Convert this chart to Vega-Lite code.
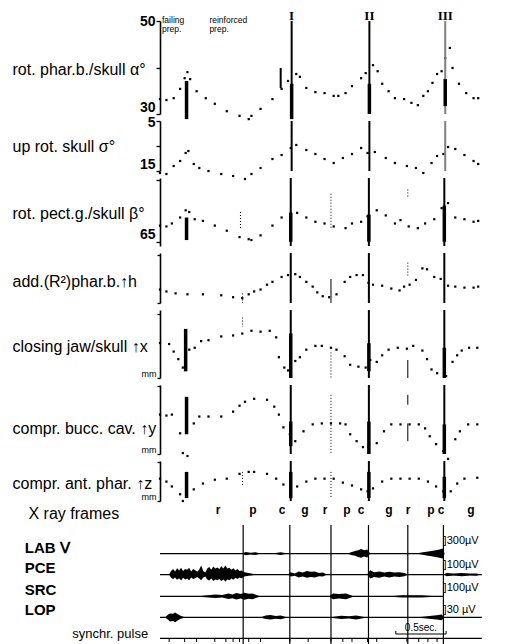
{
"$schema": "https://vega.github.io/schema/vega-lite/v6.json",
"padding": {"left": 12, "top": 9, "right": 0, "bottom": 0},
"bounds": "flush",
"spacing": 7,
"config": {
 "view": {"stroke": null},
 "font": "Liberation Sans",
 "axis": {"domainColor": "black", "domainWidth": 1.6, "tickColor": "black", "tickWidth": 1.3, "tickSize": 4, "labelColor": "black", "labelFont": "Liberation Sans", "labelFontSize": 14, "labelFontWeight": "bold", "labelPadding": 1, "labelFlush": false, "labelOverlap": false, "grid": false, "titleColor": "black", "titleFont": "Liberation Sans", "titleFontSize": 16, "titleFontWeight": "normal", "titleAngle": 0, "titleAlign": "left", "titleBaseline": "middle", "titleX": -148},
 "point": {"filled": true, "shape": "square", "size": 5, "color": "black", "opacity": 1},
 "text": {"color": "black"},
 "rule": {"color": "black"}
},
"vconcat": [
{
 "width": 352, "height": 93,
 "layer": [
  {"data": {"values": [{"t":0,"v":33.2},{"t":0.064,"v":33.0},{"t":0.136,"v":33.4},{"t":0.2,"v":35.4},{"t":0.245,"v":37.7},{"t":0.273,"v":39.0},{"t":0.3,"v":37.5},{"t":0.364,"v":34.9},{"t":0.455,"v":33.4},{"t":0.545,"v":32.2},{"t":0.664,"v":30.6},{"t":0.791,"v":29.6},{"t":0.882,"v":28.9},{"t":0.909,"v":29.6},{"t":1.0,"v":31.1},{"t":1.118,"v":33.2},{"t":1.209,"v":35.4},{"t":1.273,"v":37.1},{"t":1.355,"v":38.6},{"t":1.391,"v":38.0},{"t":1.455,"v":35.6},{"t":1.545,"v":34.7},{"t":1.636,"v":34.5},{"t":1.727,"v":33.9},{"t":1.773,"v":33.9},{"t":1.845,"v":34.5},{"t":1.909,"v":36.0},{"t":2.0,"v":37.7},{"t":2.045,"v":38.8},{"t":2.118,"v":40.5},{"t":2.164,"v":39.2},{"t":2.209,"v":36.5},{"t":2.273,"v":34.9},{"t":2.336,"v":33.4},{"t":2.427,"v":33.2},{"t":2.5,"v":32.4},{"t":2.564,"v":31.9},{"t":2.618,"v":33.9},{"t":2.664,"v":34.9},{"t":2.709,"v":36.7},{"t":2.755,"v":38.6},{"t":2.8,"v":39.2},{"t":2.836,"v":42.0},{"t":2.882,"v":44.2},{"t":2.909,"v":39.9},{"t":2.973,"v":36.5},{"t":3.045,"v":34.5},{"t":3.118,"v":33.4},{"t":3.164,"v":33.4}]},
   "mark": "point",
   "encoding": {
    "x": {"field": "t", "type": "quantitative", "scale": {"domain": [0, 3.2]}, "axis": null},
    "y": {"field": "v", "type": "quantitative", "scale": {"domain": [30, 50], "zero": false},
     "axis": {"title": "rot. phar.b./skull α°", "titleY": 48, "values": [30, 35, 40, 45, 50], "labelExpr": "datum.value==30||datum.value==50 ? datum.label : ''", "labelBaseline": {"condition": {"test": "datum.value==30", "value": "bottom"}, "value": "middle"}}}
   }},
  {"data": {"values": [{"t":1.309},{"t":2.082}]}, "mark": {"type": "rule", "strokeWidth": 2}, "encoding": {"x": {"field": "t", "type": "quantitative"}}},
  {"data": {"values": [{"t":2.836}]}, "mark": {"type": "rule", "strokeWidth": 2, "color": "#808080"}, "encoding": {"x": {"field": "t", "type": "quantitative"}}},
  {"data": {"values": [{"t":0.264,"a":37.1,"b":28.9},{"t":1.309,"a":36.5,"b":28.9},{"t":2.082,"a":36.5,"b":30},{"t":2.836,"a":37.5,"b":31.7}]}, "mark": {"type": "rule", "strokeWidth": 3.5}, "encoding": {"x": {"field": "t", "type": "quantitative"}, "y": {"field": "a", "type": "quantitative"}, "y2": {"field": "b"}}},
  {"data": {"values": [{"t":1.2,"a":39.9,"b":35.6}]}, "mark": {"type": "rule", "strokeWidth": 2}, "encoding": {"x": {"field": "t", "type": "quantitative"}, "y": {"field": "a", "type": "quantitative"}, "y2": {"field": "b"}}},
  {"data": {"values": [{"t":1.309,"v":51.08,"s":"I"},{"t":2.082,"v":51.08,"s":"II"},{"t":2.836,"v":51.08,"s":"III"}]}, "mark": {"type": "text", "font": "Liberation Serif", "fontWeight": "bold", "fontSize": 13, "baseline": "middle"}, "encoding": {"x": {"field": "t", "type": "quantitative"}, "y": {"field": "v", "type": "quantitative"}, "text": {"field": "s"}}},
  {"data": {"values": [{"t":0.02,"v":51.0,"s":"failing\nprep."},{"t":0.491,"v":51.0,"s":"reinforced\nprep."}]}, "mark": {"type": "text", "fontSize": 8.5, "align": "left", "baseline": "top", "lineBreak": "\n", "lineHeight": 8.5}, "encoding": {"x": {"field": "t", "type": "quantitative"}, "y": {"field": "v", "type": "quantitative"}, "text": {"field": "s"}}}
 ]
},
{
 "width": 352, "height": 50,
 "layer": [
  {"data": {"values": [{"t":0,"v":15.4},{"t":0.064,"v":15.6},{"t":0.136,"v":14.0},{"t":0.2,"v":13.0},{"t":0.255,"v":11.4},{"t":0.282,"v":11.0},{"t":0.336,"v":13.6},{"t":0.391,"v":14.4},{"t":0.482,"v":15.0},{"t":0.609,"v":15.6},{"t":0.727,"v":16.0},{"t":0.845,"v":16.6},{"t":0.909,"v":15.6},{"t":1.0,"v":14.4},{"t":1.118,"v":12.6},{"t":1.209,"v":11.8},{"t":1.3,"v":10.4},{"t":1.355,"v":9.8},{"t":1.455,"v":10.8},{"t":1.545,"v":11.6},{"t":1.636,"v":12.6},{"t":1.727,"v":13.4},{"t":1.818,"v":12.4},{"t":1.909,"v":11.6},{"t":2.0,"v":10.4},{"t":2.064,"v":11.4},{"t":2.136,"v":11.2},{"t":2.245,"v":12.4},{"t":2.336,"v":13.4},{"t":2.455,"v":14.0},{"t":2.545,"v":14.4},{"t":2.618,"v":15.4},{"t":2.7,"v":13.4},{"t":2.755,"v":12.0},{"t":2.818,"v":11.6},{"t":2.864,"v":10.2},{"t":2.936,"v":10.6},{"t":3.027,"v":11.8},{"t":3.118,"v":13.0},{"t":3.164,"v":13.6}]},
   "mark": "point",
   "encoding": {
    "x": {"field": "t", "type": "quantitative", "scale": {"domain": [0, 3.2]}, "axis": null},
    "y": {"field": "v", "type": "quantitative", "scale": {"domain": [5, 15], "reverse": true, "zero": false},
     "axis": {"title": "up rot. skull σ°", "titleY": 25, "values": [5, 10, 15], "labelExpr": "datum.value==5||datum.value==15 ? datum.label : ''", "labelBaseline": {"condition": {"test": "datum.value==15", "value": "bottom"}, "value": "middle"}, "labelOffset": {"condition": {"test": "datum.value==5", "value": 1}, "value": 0}}}
   }},
  {"data": {"values": [{"t":1.309},{"t":2.082}]}, "mark": {"type": "rule", "strokeWidth": 2}, "encoding": {"x": {"field": "t", "type": "quantitative"}}},
  {"data": {"values": [{"t":2.836}]}, "mark": {"type": "rule", "strokeWidth": 2, "color": "#808080"}, "encoding": {"x": {"field": "t", "type": "quantitative"}}}
 ]
},
{
 "width": 352, "height": 68,
 "layer": [
  {"data": {"values": [{"t":0,"v":68.8},{"t":0.064,"v":68.6},{"t":0.118,"v":69.3},{"t":0.2,"v":70.7},{"t":0.255,"v":72.4},{"t":0.291,"v":72.0},{"t":0.345,"v":70.3},{"t":0.427,"v":69.9},{"t":0.545,"v":68.8},{"t":0.664,"v":67.6},{"t":0.791,"v":66.1},{"t":0.882,"v":65.6},{"t":0.909,"v":65.4},{"t":1.0,"v":66.5},{"t":1.118,"v":68.8},{"t":1.209,"v":70.7},{"t":1.3,"v":71.8},{"t":1.364,"v":71.8},{"t":1.455,"v":70.7},{"t":1.545,"v":69.7},{"t":1.636,"v":69.3},{"t":1.727,"v":68.6},{"t":1.845,"v":68.2},{"t":1.909,"v":69.3},{"t":2.0,"v":69.7},{"t":2.064,"v":71.0},{"t":2.155,"v":72.4},{"t":2.245,"v":71.2},{"t":2.336,"v":69.3},{"t":2.391,"v":70.1},{"t":2.473,"v":68.6},{"t":2.564,"v":68.2},{"t":2.636,"v":69.3},{"t":2.727,"v":70.3},{"t":2.8,"v":72.9},{"t":2.864,"v":74.1},{"t":2.936,"v":70.7},{"t":3.027,"v":70.3},{"t":3.118,"v":69.7},{"t":3.164,"v":69.9}]},
   "mark": "point",
   "encoding": {
    "x": {"field": "t", "type": "quantitative", "scale": {"domain": [0, 3.2]}, "axis": null},
    "y": {"field": "v", "type": "quantitative", "scale": {"domain": [65, 79.47], "zero": false},
     "axis": {"title": "rot. pect.g./skull β°", "titleY": 35, "values": [65, 70, 75, 79.47], "labelExpr": "datum.value==65||datum.value==75 ? datum.label : ''", "labelBaseline": {"condition": {"test": "datum.value==65", "value": "bottom"}, "value": "middle"}}}
   }},
  {"data": {"values": [{"t":1.3},{"t":2.077},{"t":2.827}]}, "mark": {"type": "rule", "strokeWidth": 2}, "encoding": {"x": {"field": "t", "type": "quantitative"}}},
  {"data": {"values": [{"t":0.264,"a":70.7,"b":65.4},{"t":1.3,"a":71.8,"b":65},{"t":2.077,"a":71.4,"b":65},{"t":2.827,"a":73.5,"b":65}]}, "mark": {"type": "rule", "strokeWidth": 3.5}, "encoding": {"x": {"field": "t", "type": "quantitative"}, "y": {"field": "a", "type": "quantitative"}, "y2": {"field": "b"}}},
  {"data": {"values": [{"t":1.7,"a":76.3,"b":68.2},{"t":2.464,"a":77.3,"b":75.2},{"t":0.8,"a":72.0,"b":68.2}]}, "mark": {"type": "rule", "strokeWidth": 1, "strokeDash": [1, 2]}, "encoding": {"x": {"field": "t", "type": "quantitative"}, "y": {"field": "a", "type": "quantitative"}, "y2": {"field": "b"}}}
 ]
},
{
 "width": 352, "height": 50,
 "layer": [
  {"data": {"values": [{"t":0,"v":1.75},{"t":0.064,"v":1.5},{"t":0.155,"v":1.25},{"t":0.273,"v":1.13},{"t":0.427,"v":1.13},{"t":0.609,"v":1.0},{"t":0.727,"v":0.75},{"t":0.818,"v":0.63},{"t":0.882,"v":1.13},{"t":0.936,"v":1.5},{"t":1.0,"v":1.75},{"t":1.064,"v":2.38},{"t":1.118,"v":2.75},{"t":1.209,"v":3.38},{"t":1.273,"v":3.63},{"t":1.345,"v":3.75},{"t":1.391,"v":3.38},{"t":1.455,"v":2.75},{"t":1.518,"v":2.13},{"t":1.564,"v":1.38},{"t":1.618,"v":0.88},{"t":1.682,"v":0.75},{"t":1.755,"v":1.13},{"t":1.836,"v":2.75},{"t":1.891,"v":3.38},{"t":1.955,"v":3.63},{"t":2.018,"v":3.63},{"t":2.073,"v":2.63},{"t":2.118,"v":2.38},{"t":2.209,"v":2.25},{"t":2.3,"v":1.88},{"t":2.382,"v":1.63},{"t":2.427,"v":2.13},{"t":2.482,"v":2.38},{"t":2.545,"v":3.0},{"t":2.609,"v":4.5},{"t":2.655,"v":4.38},{"t":2.727,"v":3.38},{"t":2.791,"v":3.13},{"t":2.864,"v":2.25},{"t":2.936,"v":2.13},{"t":3.027,"v":2.0},{"t":3.118,"v":2.0},{"t":3.164,"v":2.13}]},
   "mark": "point",
   "encoding": {
    "x": {"field": "t", "type": "quantitative", "scale": {"domain": [0, 3.2]}, "axis": null},
    "y": {"field": "v", "type": "quantitative", "scale": {"domain": [0, 6.25]},
     "axis": {"title": "add.(R²)phar.b.↑h", "titleY": 28, "values": [0, 2, 4, 6.25], "labels": false, "tickSize": 3}}
   }},
  {"data": {"values": [{"t":1.3},{"t":2.077},{"t":2.827}]}, "mark": {"type": "rule", "strokeWidth": 2}, "encoding": {"x": {"field": "t", "type": "quantitative"}}},
  {"data": {"values": [{"t":1.7,"a":3.13,"b":0}]}, "mark": {"type": "rule", "strokeWidth": 1}, "encoding": {"x": {"field": "t", "type": "quantitative"}, "y": {"field": "a", "type": "quantitative"}, "y2": {"field": "b"}}},
  {"data": {"values": [{"t":2.464,"a":5.25,"b":3.38},{"t":0.82,"a":1.25,"b":0}]}, "mark": {"type": "rule", "strokeWidth": 1, "strokeDash": [1, 2]}, "encoding": {"x": {"field": "t", "type": "quantitative"}, "y": {"field": "a", "type": "quantitative"}, "y2": {"field": "b"}}}
 ]
},
{
 "width": 352, "height": 68,
 "layer": [
  {"data": {"values": [{"t":0,"v":4.63},{"t":0.091,"v":4.5},{"t":0.136,"v":3.5},{"t":0.182,"v":2.5},{"t":0.227,"v":1.38},{"t":0.291,"v":3.75},{"t":0.345,"v":4.0},{"t":0.409,"v":4.88},{"t":0.482,"v":5.0},{"t":0.609,"v":5.5},{"t":0.727,"v":5.63},{"t":0.818,"v":5.88},{"t":0.909,"v":6.25},{"t":1.0,"v":6.13},{"t":1.091,"v":6.25},{"t":1.155,"v":5.38},{"t":1.182,"v":2.75},{"t":1.236,"v":1.38},{"t":1.273,"v":1.0},{"t":1.345,"v":2.25},{"t":1.391,"v":2.75},{"t":1.455,"v":3.75},{"t":1.545,"v":4.25},{"t":1.609,"v":4.25},{"t":1.7,"v":4.0},{"t":1.755,"v":3.75},{"t":1.836,"v":2.88},{"t":1.891,"v":1.75},{"t":1.973,"v":1.5},{"t":2.045,"v":1.38},{"t":2.091,"v":2.38},{"t":2.155,"v":2.13},{"t":2.209,"v":3.0},{"t":2.273,"v":3.75},{"t":2.364,"v":4.0},{"t":2.455,"v":3.88},{"t":2.518,"v":4.25},{"t":2.609,"v":3.63},{"t":2.655,"v":2.5},{"t":2.7,"v":1.13},{"t":2.755,"v":0.63},{"t":2.845,"v":0.25},{"t":2.909,"v":2.13},{"t":2.955,"v":3.0},{"t":3.0,"v":3.63},{"t":3.073,"v":4.0},{"t":3.155,"v":4.0}]},
   "mark": "point",
   "encoding": {
    "x": {"field": "t", "type": "quantitative", "scale": {"domain": [0, 3.2]}, "axis": null},
    "y": {"field": "v", "type": "quantitative", "scale": {"domain": [0, 8.5]},
     "axis": {"title": "closing jaw/skull ↑x", "titleY": 36, "values": [0, 1, 2, 3, 4, 5, 6, 7, 8.5], "tickSize": 3, "labelExpr": "datum.value==0 ? 'mm' : ''", "labelFontSize": 9, "labelFontWeight": "normal", "labelBaseline": "bottom"}}
   }},
  {"data": {"values": [{"t":1.3},{"t":2.077},{"t":2.827}]}, "mark": {"type": "rule", "strokeWidth": 2}, "encoding": {"x": {"field": "t", "type": "quantitative"}}},
  {"data": {"values": [{"t":0.255,"a":6.5,"b":0.88},{"t":1.3,"a":5.9,"b":0},{"t":2.077,"a":4.6,"b":0.9},{"t":2.827,"a":4.0,"b":0}]}, "mark": {"type": "rule", "strokeWidth": 3.5}, "encoding": {"x": {"field": "t", "type": "quantitative"}, "y": {"field": "a", "type": "quantitative"}, "y2": {"field": "b"}}},
  {"data": {"values": [{"t":1.7,"a":3.38,"b":0},{"t":0.82,"a":8.0,"b":6.75}]}, "mark": {"type": "rule", "strokeWidth": 1, "strokeDash": [1, 2]}, "encoding": {"x": {"field": "t", "type": "quantitative"}, "y": {"field": "a", "type": "quantitative"}, "y2": {"field": "b"}}},
  {"data": {"values": [{"t":2.464,"a":2.38,"b":0}]}, "mark": {"type": "rule", "strokeWidth": 1}, "encoding": {"x": {"field": "t", "type": "quantitative"}, "y": {"field": "a", "type": "quantitative"}, "y2": {"field": "b"}}}
 ]
},
{
 "width": 352, "height": 69,
 "layer": [
  {"data": {"values": [{"t":0,"v":5.71},{"t":0.064,"v":5.57},{"t":0.118,"v":5.71},{"t":0.2,"v":3.0},{"t":0.227,"v":0.14},{"t":0.273,"v":-0.29},{"t":0.336,"v":4.43},{"t":0.391,"v":5.43},{"t":0.482,"v":5.43},{"t":0.609,"v":5.43},{"t":0.727,"v":6.14},{"t":0.791,"v":7.0},{"t":0.845,"v":7.57},{"t":0.936,"v":8.0},{"t":1.064,"v":7.86},{"t":1.136,"v":6.86},{"t":1.182,"v":5.71},{"t":1.227,"v":3.86},{"t":1.291,"v":2.86},{"t":1.345,"v":1.86},{"t":1.427,"v":3.29},{"t":1.518,"v":4.29},{"t":1.609,"v":4.43},{"t":1.7,"v":4.43},{"t":1.791,"v":4.43},{"t":1.845,"v":4.29},{"t":1.891,"v":2.86},{"t":1.955,"v":1.86},{"t":2.018,"v":1.0},{"t":2.073,"v":1.14},{"t":2.155,"v":1.57},{"t":2.227,"v":3.29},{"t":2.3,"v":4.29},{"t":2.391,"v":4.29},{"t":2.482,"v":4.29},{"t":2.573,"v":4.29},{"t":2.636,"v":3.71},{"t":2.682,"v":2.57},{"t":2.745,"v":1.43},{"t":2.818,"v":0.43},{"t":2.864,"v":-0.71},{"t":2.936,"v":2.14},{"t":2.982,"v":3.29},{"t":3.064,"v":4.29},{"t":3.155,"v":4.29}]},
   "mark": "point",
   "encoding": {
    "x": {"field": "t", "type": "quantitative", "scale": {"domain": [0, 3.2]}, "axis": null},
    "y": {"field": "v", "type": "quantitative", "scale": {"domain": [0, 9.86]},
     "axis": {"title": "compr. bucc. cav. ↑y", "titleY": 43, "values": [0, 1, 2, 3, 4, 5, 6, 7, 8, 9.86], "tickSize": 3, "labelExpr": "datum.value==0 ? 'mm' : ''", "labelFontSize": 9, "labelFontWeight": "normal", "labelBaseline": "bottom"}}
   }},
  {"data": {"values": [{"t":1.3},{"t":2.077},{"t":2.827}]}, "mark": {"type": "rule", "strokeWidth": 2}, "encoding": {"x": {"field": "t", "type": "quantitative"}}},
  {"data": {"values": [{"t":0.264,"a":8.29,"b":2.86},{"t":1.3,"a":4.71,"b":1.14},{"t":2.077,"a":4.71,"b":0},{"t":2.827,"a":4.29,"b":0}]}, "mark": {"type": "rule", "strokeWidth": 3.5}, "encoding": {"x": {"field": "t", "type": "quantitative"}, "y": {"field": "a", "type": "quantitative"}, "y2": {"field": "b"}}},
  {"data": {"values": [{"t":1.7,"a":8.57,"b":0}]}, "mark": {"type": "rule", "strokeWidth": 1, "strokeDash": [1, 2]}, "encoding": {"x": {"field": "t", "type": "quantitative"}, "y": {"field": "a", "type": "quantitative"}, "y2": {"field": "b"}}},
  {"data": {"values": [{"t":2.464,"a":8.57,"b":7.14},{"t":2.464,"a":4.43,"b":1.86}]}, "mark": {"type": "rule", "strokeWidth": 1}, "encoding": {"x": {"field": "t", "type": "quantitative"}, "y": {"field": "a", "type": "quantitative"}, "y2": {"field": "b"}}}
 ]
},
{
 "width": 352, "height": 40,
 "layer": [
  {"data": {"values": [{"t":0,"v":3.07},{"t":0.064,"v":2.67},{"t":0.118,"v":2.0},{"t":0.2,"v":0.93},{"t":0.227,"v":0},{"t":0.336,"v":1.6},{"t":0.427,"v":2.4},{"t":0.545,"v":2.93},{"t":0.664,"v":3.07},{"t":0.791,"v":3.73},{"t":0.882,"v":4.0},{"t":0.936,"v":4.0},{"t":1.064,"v":3.73},{"t":1.155,"v":3.07},{"t":1.227,"v":2.27},{"t":1.3,"v":1.6},{"t":1.364,"v":2.0},{"t":1.455,"v":2.67},{"t":1.545,"v":3.07},{"t":1.636,"v":3.07},{"t":1.727,"v":3.07},{"t":1.818,"v":2.53},{"t":1.909,"v":2.13},{"t":2.0,"v":1.6},{"t":2.064,"v":1.33},{"t":2.118,"v":1.73},{"t":2.209,"v":2.67},{"t":2.3,"v":3.07},{"t":2.391,"v":3.07},{"t":2.482,"v":3.07},{"t":2.573,"v":3.07},{"t":2.664,"v":2.67},{"t":2.745,"v":2.0},{"t":2.818,"v":1.33},{"t":2.891,"v":1.33},{"t":2.955,"v":2.4},{"t":3.027,"v":3.07},{"t":3.155,"v":3.2}]},
   "mark": "point",
   "encoding": {
    "x": {"field": "t", "type": "quantitative", "scale": {"domain": [0, 3.2]}, "axis": null},
    "y": {"field": "v", "type": "quantitative", "scale": {"domain": [0, 5.33]},
     "axis": {"title": "compr. ant. phar. ↑z", "titleY": 22, "values": [0, 1, 2, 3, 4, 5.33], "tickSize": 3, "labelExpr": "datum.value==0 ? 'mm' : ''", "labelFontSize": 9, "labelFontWeight": "normal", "labelBaseline": "bottom"}}
   }},
  {"data": {"values": [{"t":1.3},{"t":2.077},{"t":2.827}]}, "mark": {"type": "rule", "strokeWidth": 2}, "encoding": {"x": {"field": "t", "type": "quantitative"}}},
  {"data": {"values": [{"t":0.264,"a":4.0,"b":0.4},{"t":1.3,"a":4.0,"b":0.4},{"t":2.077,"a":4.0,"b":0.4},{"t":2.827,"a":3.33,"b":0.4}]}, "mark": {"type": "rule", "strokeWidth": 3.5}, "encoding": {"x": {"field": "t", "type": "quantitative"}, "y": {"field": "a", "type": "quantitative"}, "y2": {"field": "b"}}},
  {"data": {"values": [{"t":1.7,"a":4.0,"b":0.4},{"t":0.82,"a":4.0,"b":2.0}]}, "mark": {"type": "rule", "strokeWidth": 1, "strokeDash": [1, 2]}, "encoding": {"x": {"field": "t", "type": "quantitative"}, "y": {"field": "a", "type": "quantitative"}, "y2": {"field": "b"}}}
 ]
},
{
 "width": 352, "height": 10,
 "layer": [
  {"data": {"values": [{"t":0.527,"f":"r"},{"t":0.845,"f":"p"},{"t":1.109,"f":"c"},{"t":1.318,"f":"g"},{"t":1.5,"f":"r"},{"t":1.7,"f":"p"},{"t":1.827,"f":"c"},{"t":2.082,"f":"g"},{"t":2.255,"f":"r"},{"t":2.464,"f":"p"},{"t":2.555,"f":"c"},{"t":2.827,"f":"g"}]},
   "mark": {"type": "text", "fontSize": 12, "fontWeight": "bold", "baseline": "middle"},
   "encoding": {
    "x": {"field": "t", "type": "quantitative", "scale": {"domain": [0, 3.2]}, "axis": null},
    "y": {"datum": 0.6, "type": "quantitative", "scale": {"domain": [-1, 1]}, "axis": {"title": "X ray frames", "titleY": 5, "titleX": -132, "domain": false, "ticks": false, "labels": false}},
    "text": {"field": "f"}
   }}
 ]
},
{
 "width": 352, "height": 120,
 "layer": [
  {"data": {"values": [{"t0":0,"t1":2.82,"v":4.57},{"t0":0,"t1":3.2,"v":3.52},{"t0":0,"t1":2.82,"v":2.43},{"t0":0,"t1":3.2,"v":1.38},{"t0":0,"t1":3.2,"v":0.33}]},
   "mark": {"type": "rule", "strokeWidth": 1.3},
   "encoding": {
    "x": {"field": "t0", "type": "quantitative", "scale": {"domain": [0, 3.2]}, "axis": null},
    "x2": {"field": "t1"},
    "y": {"field": "v", "type": "quantitative", "scale": {"domain": [0, 5.714]}, "axis": null}
   }},
  {"data": {"values": [
    {"b":"L1","t":0.818,"lo":4.57,"hi":4.57},{"b":"L1","t":0.85,"lo":4.49,"hi":4.65},{"b":"L1","t":0.9,"lo":4.53,"hi":4.61},{"b":"L1","t":0.95,"lo":4.5,"hi":4.64},{"b":"L1","t":1.0,"lo":4.57,"hi":4.57},
    {"b":"L2","t":1.118,"lo":4.57,"hi":4.57},{"b":"L2","t":1.2,"lo":4.5,"hi":4.64},{"b":"L2","t":1.273,"lo":4.57,"hi":4.57},
    {"b":"L3","t":1.864,"lo":4.57,"hi":4.57},{"b":"L3","t":1.9,"lo":4.5,"hi":4.64},{"b":"L3","t":1.94,"lo":4.46,"hi":4.7},{"b":"L3","t":1.97,"lo":4.4,"hi":4.74},{"b":"L3","t":2.0,"lo":4.36,"hi":4.8},{"b":"L3","t":2.03,"lo":4.42,"hi":4.74},{"b":"L3","t":2.06,"lo":4.38,"hi":4.78},{"b":"L3","t":2.09,"lo":4.57,"hi":4.57},
    {"b":"L4","t":2.545,"lo":4.57,"hi":4.57},{"b":"L4","t":2.6,"lo":4.52,"hi":4.62},{"b":"L4","t":2.65,"lo":4.48,"hi":4.66},{"b":"L4","t":2.7,"lo":4.44,"hi":4.7},{"b":"L4","t":2.74,"lo":4.4,"hi":4.74},{"b":"L4","t":2.78,"lo":4.36,"hi":4.78},{"b":"L4","t":2.81,"lo":4.32,"hi":4.82},{"b":"L4","t":2.83,"lo":4.57,"hi":4.57},
    {"b":"P1","t":0.09,"lo":3.52,"hi":3.52},{"b":"P1","t":0.11,"lo":3.36,"hi":3.7},{"b":"P1","t":0.13,"lo":3.3,"hi":3.8},{"b":"P1","t":0.15,"lo":3.38,"hi":3.68},{"b":"P1","t":0.17,"lo":3.26,"hi":3.84},{"b":"P1","t":0.19,"lo":3.34,"hi":3.72},{"b":"P1","t":0.21,"lo":3.22,"hi":3.86},{"b":"P1","t":0.23,"lo":3.36,"hi":3.7},{"b":"P1","t":0.25,"lo":3.28,"hi":3.8},{"b":"P1","t":0.27,"lo":3.32,"hi":3.76},{"b":"P1","t":0.29,"lo":3.24,"hi":3.86},{"b":"P1","t":0.31,"lo":3.38,"hi":3.68},{"b":"P1","t":0.33,"lo":3.3,"hi":3.8},{"b":"P1","t":0.35,"lo":3.34,"hi":3.74},{"b":"P1","t":0.37,"lo":3.4,"hi":3.66},{"b":"P1","t":0.39,"lo":3.32,"hi":3.78},{"b":"P1","t":0.41,"lo":3.24,"hi":3.98},{"b":"P1","t":0.43,"lo":3.38,"hi":3.7},{"b":"P1","t":0.45,"lo":3.42,"hi":3.62},{"b":"P1","t":0.47,"lo":3.28,"hi":3.82},{"b":"P1","t":0.49,"lo":3.22,"hi":3.9},{"b":"P1","t":0.51,"lo":3.32,"hi":3.76},{"b":"P1","t":0.53,"lo":3.2,"hi":3.92},{"b":"P1","t":0.55,"lo":3.28,"hi":3.82},{"b":"P1","t":0.57,"lo":3.24,"hi":3.88},{"b":"P1","t":0.59,"lo":3.3,"hi":3.8},{"b":"P1","t":0.61,"lo":3.2,"hi":3.94},{"b":"P1","t":0.63,"lo":3.28,"hi":3.82},{"b":"P1","t":0.65,"lo":3.18,"hi":3.98},{"b":"P1","t":0.67,"lo":3.28,"hi":3.82},{"b":"P1","t":0.69,"lo":3.24,"hi":3.86},{"b":"P1","t":0.71,"lo":3.32,"hi":3.76},{"b":"P1","t":0.73,"lo":3.26,"hi":3.84},{"b":"P1","t":0.75,"lo":3.36,"hi":3.72},{"b":"P1","t":0.77,"lo":3.3,"hi":3.8},{"b":"P1","t":0.79,"lo":3.38,"hi":3.7},{"b":"P1","t":0.81,"lo":3.34,"hi":3.72},{"b":"P1","t":0.84,"lo":3.42,"hi":3.64},{"b":"P1","t":0.88,"lo":3.46,"hi":3.6},{"b":"P1","t":0.92,"lo":3.49,"hi":3.56},{"b":"P1","t":0.95,"lo":3.52,"hi":3.52},
    {"b":"P2","t":1.27,"lo":3.52,"hi":3.52},{"b":"P2","t":1.3,"lo":3.42,"hi":3.64},{"b":"P2","t":1.34,"lo":3.46,"hi":3.58},{"b":"P2","t":1.38,"lo":3.38,"hi":3.68},{"b":"P2","t":1.42,"lo":3.42,"hi":3.62},{"b":"P2","t":1.46,"lo":3.36,"hi":3.7},{"b":"P2","t":1.5,"lo":3.4,"hi":3.66},{"b":"P2","t":1.54,"lo":3.38,"hi":3.68},{"b":"P2","t":1.58,"lo":3.44,"hi":3.6},{"b":"P2","t":1.62,"lo":3.42,"hi":3.62},{"b":"P2","t":1.66,"lo":3.52,"hi":3.52},
    {"b":"P3","t":2.06,"lo":3.52,"hi":3.52},{"b":"P3","t":2.09,"lo":3.32,"hi":3.74},{"b":"P3","t":2.13,"lo":3.4,"hi":3.64},{"b":"P3","t":2.18,"lo":3.36,"hi":3.68},{"b":"P3","t":2.23,"lo":3.42,"hi":3.62},{"b":"P3","t":2.28,"lo":3.38,"hi":3.66},{"b":"P3","t":2.33,"lo":3.42,"hi":3.62},{"b":"P3","t":2.38,"lo":3.4,"hi":3.64},{"b":"P3","t":2.43,"lo":3.44,"hi":3.6},{"b":"P3","t":2.47,"lo":3.52,"hi":3.52},
    {"b":"P4","t":2.82,"lo":3.52,"hi":3.52},{"b":"P4","t":2.85,"lo":3.44,"hi":3.6},{"b":"P4","t":2.92,"lo":3.47,"hi":3.57},{"b":"P4","t":3.0,"lo":3.44,"hi":3.6},{"b":"P4","t":3.08,"lo":3.47,"hi":3.57},{"b":"P4","t":3.15,"lo":3.46,"hi":3.58},{"b":"P4","t":3.18,"lo":3.52,"hi":3.52},
    {"b":"S1","t":0.36,"lo":2.43,"hi":2.43},{"b":"S1","t":0.45,"lo":2.39,"hi":2.48},{"b":"S1","t":0.55,"lo":2.35,"hi":2.52},{"b":"S1","t":0.62,"lo":2.37,"hi":2.5},{"b":"S1","t":0.68,"lo":2.3,"hi":2.58},{"b":"S1","t":0.72,"lo":2.34,"hi":2.53},{"b":"S1","t":0.76,"lo":2.27,"hi":2.6},{"b":"S1","t":0.8,"lo":2.32,"hi":2.55},{"b":"S1","t":0.84,"lo":2.26,"hi":2.61},{"b":"S1","t":0.88,"lo":2.31,"hi":2.56},{"b":"S1","t":0.92,"lo":2.29,"hi":2.58},{"b":"S1","t":0.96,"lo":2.36,"hi":2.5},{"b":"S1","t":1.0,"lo":2.43,"hi":2.43},
    {"b":"S2","t":1.68,"lo":2.43,"hi":2.43},{"b":"S2","t":1.72,"lo":2.29,"hi":2.57},{"b":"S2","t":1.78,"lo":2.32,"hi":2.55},{"b":"S2","t":1.85,"lo":2.29,"hi":2.57},{"b":"S2","t":1.93,"lo":2.43,"hi":2.43},
    {"b":"S3","t":2.27,"lo":2.43,"hi":2.43},{"b":"S3","t":2.4,"lo":2.37,"hi":2.49},{"b":"S3","t":2.6,"lo":2.37,"hi":2.49},{"b":"S3","t":2.79,"lo":2.43,"hi":2.43},
    {"b":"O1","t":0.05,"lo":1.38,"hi":1.38},{"b":"O1","t":0.08,"lo":1.26,"hi":1.52},{"b":"O1","t":0.1,"lo":1.18,"hi":1.58},{"b":"O1","t":0.13,"lo":1.2,"hi":1.56},{"b":"O1","t":0.15,"lo":1.14,"hi":1.62},{"b":"O1","t":0.18,"lo":1.24,"hi":1.52},{"b":"O1","t":0.2,"lo":1.3,"hi":1.48},{"b":"O1","t":0.25,"lo":1.38,"hi":1.38},
    {"b":"O2","t":1.0,"lo":1.38,"hi":1.38},{"b":"O2","t":1.05,"lo":1.3,"hi":1.47},{"b":"O2","t":1.1,"lo":1.27,"hi":1.5},{"b":"O2","t":1.15,"lo":1.31,"hi":1.45},{"b":"O2","t":1.2,"lo":1.29,"hi":1.47},{"b":"O2","t":1.27,"lo":1.38,"hi":1.38},
    {"b":"O3","t":1.68,"lo":1.38,"hi":1.38},{"b":"O3","t":1.8,"lo":1.3,"hi":1.46},{"b":"O3","t":1.88,"lo":1.33,"hi":1.44},{"b":"O3","t":1.95,"lo":1.28,"hi":1.48},{"b":"O3","t":2.06,"lo":1.38,"hi":1.38},
    {"b":"O4","t":2.55,"lo":1.38,"hi":1.38},{"b":"O4","t":2.7,"lo":1.3,"hi":1.46},{"b":"O4","t":2.75,"lo":1.28,"hi":1.49},{"b":"O4","t":2.8,"lo":1.24,"hi":1.52},{"b":"O4","t":2.83,"lo":1.38,"hi":1.38}
   ]},
   "mark": {"type": "area", "color": "black", "opacity": 1},
   "encoding": {
    "x": {"field": "t", "type": "quantitative"},
    "y": {"field": "hi", "type": "quantitative"},
    "y2": {"field": "lo"},
    "detail": {"field": "b"}
   }},
  {"data": {"values": [{"t":0.827},{"t":1.291},{"t":1.7},{"t":2.073},{"t":2.464},{"t":2.818}]}, "mark": {"type": "rule", "strokeWidth": 1.2}, "encoding": {"x": {"field": "t", "type": "quantitative"}}},
  {"data": {"values": [{"t":0.091},{"t":0.245},{"t":0.364},{"t":0.545},{"t":0.655},{"t":0.727},{"t":0.791},{"t":0.882},{"t":1.0},{"t":1.291},{"t":1.473},{"t":1.7},{"t":1.818},{"t":1.909},{"t":2.064},{"t":2.155},{"t":2.455},{"t":2.573},{"t":2.664},{"t":2.755},{"t":2.818}]}, "mark": {"type": "rule", "strokeWidth": 1}, "encoding": {"x": {"field": "t", "type": "quantitative"}, "y": {"datum": 0.33}, "y2": {"datum": 0.15}}},
  {"data": {"values": [{"t":-1.345,"v":4.86,"s":"LAB Ⅴ"},{"t":-1.345,"v":3.86,"s":"PCE"},{"t":-1.345,"v":2.76,"s":"SRC"},{"t":-1.345,"v":1.76,"s":"LOP"}]}, "mark": {"type": "text", "fontSize": 15, "fontWeight": "bold", "align": "left", "baseline": "middle"}, "encoding": {"x": {"field": "t", "type": "quantitative"}, "y": {"field": "v", "type": "quantitative"}, "text": {"field": "s"}}},
  {"data": {"values": [{"t":-0.118,"v":0.57,"s":"synchr. pulse"}]}, "mark": {"type": "text", "fontSize": 13, "align": "right", "baseline": "middle"}, "encoding": {"x": {"field": "t", "type": "quantitative"}, "y": {"field": "v", "type": "quantitative"}, "text": {"field": "s"}}},
  {"data": {"values": [{"t":2.82,"v":5.19,"s":"]300µV"},{"t":2.82,"v":4.0,"s":"]100µV"},{"t":2.82,"v":2.86,"s":"]100µV"},{"t":2.82,"v":1.76,"s":"]30 µV"}]}, "mark": {"type": "text", "fontSize": 11, "align": "left", "baseline": "middle"}, "encoding": {"x": {"field": "t", "type": "quantitative"}, "y": {"field": "v", "type": "quantitative"}, "text": {"field": "s"}}},
  {"data": {"values": [{"t0":2.345,"t1":2.845,"v":0.55}]}, "mark": {"type": "rule", "strokeWidth": 1}, "encoding": {"x": {"field": "t0", "type": "quantitative"}, "x2": {"field": "t1"}, "y": {"field": "v", "type": "quantitative"}}},
  {"data": {"values": [{"t":2.345},{"t":2.845}]}, "mark": {"type": "rule", "strokeWidth": 1}, "encoding": {"x": {"field": "t", "type": "quantitative"}, "y": {"datum": 0.55}, "y2": {"datum": 0.7}}},
  {"data": {"values": [{"t":2.595,"v":0.86,"s":"0.5sec."}]}, "mark": {"type": "text", "fontSize": 10, "align": "center", "baseline": "middle"}, "encoding": {"x": {"field": "t", "type": "quantitative"}, "y": {"field": "v", "type": "quantitative"}, "text": {"field": "s"}}}
 ]
}
]
}
